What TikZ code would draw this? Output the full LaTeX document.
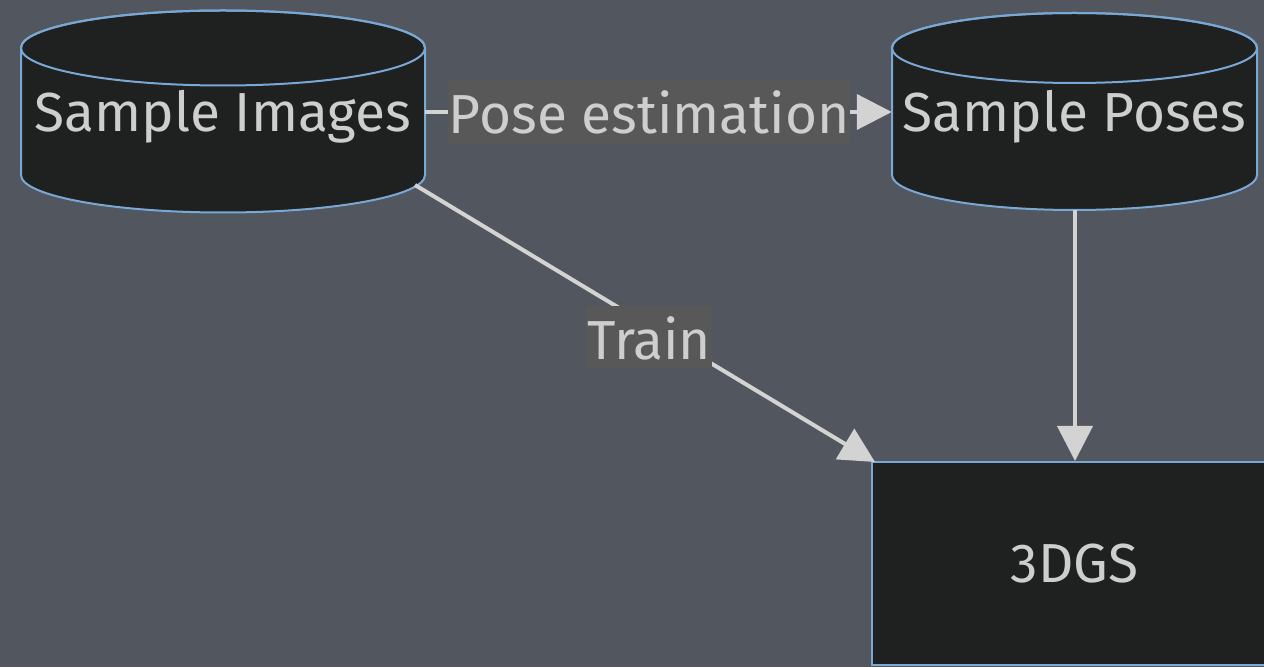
\documentclass[tikz,border=0pt]{standalone}
\usepackage{fontspec}
\setmainfont{Fira Sans}
\usetikzlibrary{arrows.meta}
\definecolor{bgc}{RGB}{82,86,95}
\definecolor{nodefill}{RGB}{31,32,32}
\definecolor{nodeline}{RGB}{122,168,213}
\definecolor{edgec}{RGB}{211,211,211}
\definecolor{txtc}{RGB}{206,206,206}
\definecolor{lblbg}{RGB}{88,88,88}
\newcommand{\mycyl}[5]{% x1, x2, ytop-center, ybottom-center, ry
  \pgfmathsetmacro{\rxx}{(#2-#1)/2}
  \pgfmathsetmacro{\cxx}{(#1+#2)/2}
  \path[fill=nodefill,draw=nodeline,line width=2pt]
    (#1,#3) -- (#1,#4) arc[start angle=180,end angle=360,x radius=\rxx,y radius=#5]
    -- (#2,#3) arc[start angle=0,end angle=180,x radius=\rxx,y radius=#5] -- cycle;
  \draw[nodeline,line width=2pt] (\cxx,#3) ellipse[x radius=\rxx,y radius=#5];
}
\tikzset{
  x=1pt,y=1pt,
  lbl/.style={text=txtc,font=\fontsize{55}{60}\selectfont,inner sep=0pt},
  edgelbl/.style={fill=lblbg,text=txtc,font=\fontsize{55}{60}\selectfont,inner xsep=1pt,inner ysep=0pt,minimum height=63pt},
  conn/.style={draw=edgec,line width=4pt,-{Triangle[length=35pt,width=35pt]}}
}
\begin{document}
\begin{tikzpicture}
\fill[bgc] (0,0) rectangle (1264,667);
\useasboundingbox (0,0) rectangle (1264,667);
\mycyl{21}{425}{619}{492}{37.5}
\mycyl{892}{1257}{619}{492}{35}
\node[lbl,minimum width=404pt] (si) at (223,550) {Sample Images};
\node[lbl,minimum width=365pt] (sp) at (1074.5,550) {Sample Poses};
\node[rectangle,fill=nodefill,draw=nodeline,line width=2pt,minimum width=405pt,minimum height=203pt,text=txtc,font=\fontsize{55}{60}\selectfont] (g) at (1074.5,103.5) {3DGS};
\coordinate (siout) at (415,482);
\coordinate (gin) at (875,205);
\draw[conn] (si.east |- 0,555) -- node[edgelbl,pos=0.48] {Pose estimation} (sp.west |- 0,555);
\draw[conn] (1075,457) -- (g.north -| 1075,0);
\draw[conn] (siout) -- node[edgelbl,pos=0.509,yshift=-12pt] {Train} (gin);
\end{tikzpicture}
\end{document}
